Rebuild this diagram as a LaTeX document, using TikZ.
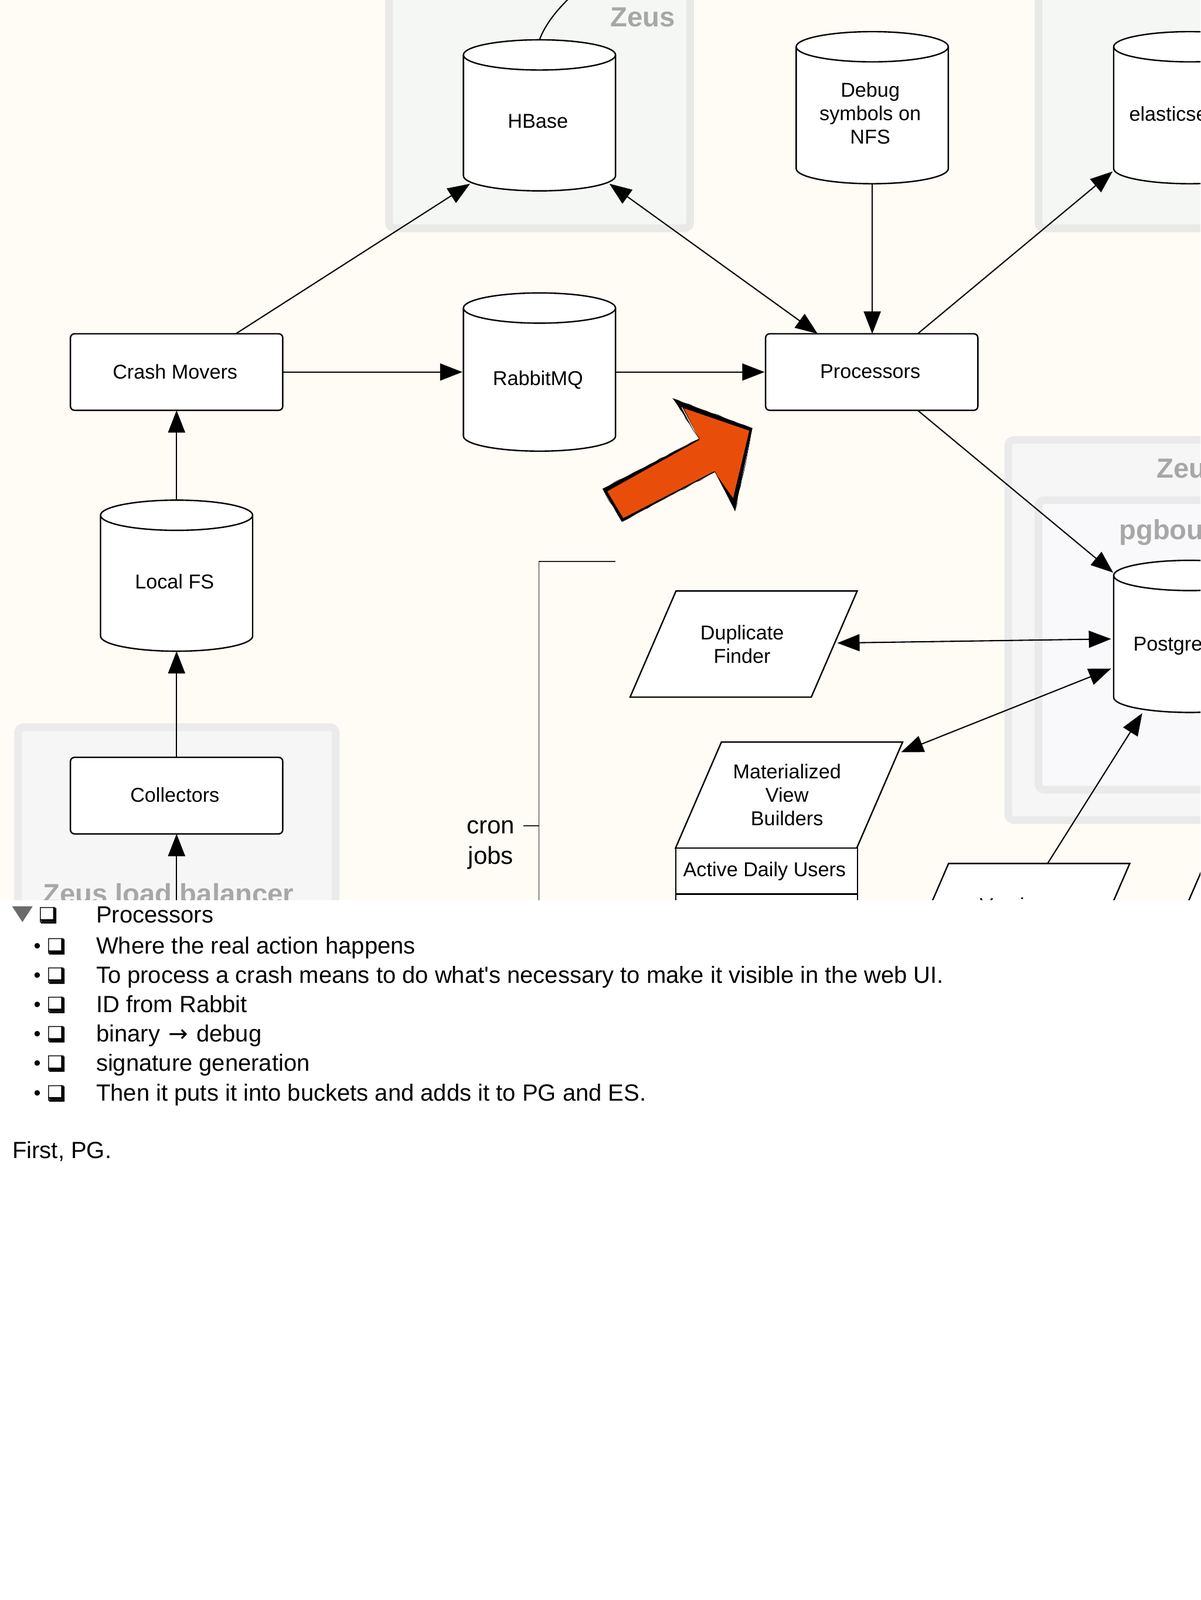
\documentclass[tikz,border=0pt]{standalone}
\usepackage{fontspec}
\setmainfont{Liberation Sans}
\newfontfamily\lib{Liberation Sans}
\newfontfamily\djv{DejaVu Sans}
\usetikzlibrary{arrows.meta,decorations.pathmorphing}
\def\uu{0.87075pt}
\definecolor{bgc}{HTML}{FFFCF5}
\definecolor{zfill}{HTML}{F5F7F4}
\definecolor{zline}{HTML}{E9EAE8}
\definecolor{pfill}{HTML}{F7F6F7}
\definecolor{pline}{HTML}{EAEAEA}
\definecolor{ifill}{HTML}{F9F8FA}
\definecolor{lfill}{HTML}{F7F6F6}
\definecolor{lline}{HTML}{ECEBEB}
\definecolor{lab}{HTML}{A8A7A8}
\definecolor{org}{HTML}{E84E0A}
\tikzset{
  group/.style={line width=6.6pt,rounded corners=5pt},
  glabel/.style={text=lab,anchor=base west,inner sep=0pt,font=\fontsize{23.6}{28}\selectfont\bfseries},
  boxtext/.style={font=\fontsize{17.1}{20}\selectfont,align=center,inner sep=0pt,text=black},
  edgetext/.style={boxtext,anchor=base west},
  box/.style={draw=black,fill=white,line width=1.2pt,outer sep=0pt,inner sep=0pt,boxtext},
  rbox/.style={box,rectangle,rounded corners=3.5pt,minimum width=208*\uu,minimum height=75*\uu},
  parabox/.style={rectangle,draw=none,outer sep=0pt,boxtext,minimum width=222.5*\uu,minimum height=104*\uu},
  paraline/.style={draw=black,fill=white,line width=1.2pt,line join=miter},
  row/.style={box,rectangle,minimum width=178*\uu,minimum height=45*\uu},
  cylbox/.style={rectangle,draw=none,inner sep=0pt,outer sep=0pt,minimum width=149*\uu},
  cylline/.style={draw=black,fill=white,line width=1.2pt},
  conn/.style={draw=black,line width=1.05pt,-{Triangle[length=19pt,width=14.5pt]}},
  both/.style={draw=black,line width=1.05pt,{Triangle[length=19pt,width=14.5pt]}-{Triangle[length=19pt,width=14.5pt]}},
  plain/.style={draw=black,line width=1.05pt},
  thinl/.style={draw=black!85,line width=0.7pt},
  ltext/.style={anchor=base west,inner sep=0pt,font=\fontsize{20}{24}\selectfont\lib},
  lbox/.style={anchor=base west,inner sep=0pt,font=\fontsize{18}{24}\selectfont\djv},
  lbul/.style={anchor=base west,inner sep=0pt,font=\fontsize{17}{24}\selectfont},
}
% name, centre x, top y, bottom y
\newcommand\mycyl[4]{%
  \pgfmathsetmacro\cx{#2}\pgfmathsetmacro\ca{#2-74.5}\pgfmathsetmacro\cb{#2+74.5}%
  \pgfmathsetmacro\ct{#3+14.8}\pgfmathsetmacro\cd{#4-14.8}\pgfmathsetmacro\cm{(#3+#4)/2}\pgfmathsetmacro\ch{#4-#3}%
  \node[cylbox,minimum height=\ch*\uu] (#1) at (\cx,\cm) {};
  \draw[cylline] (\ca,\ct) arc[x radius=74.5*\uu,y radius=14.8*\uu,start angle=180,end angle=0]
     -- (\cb,\cd) arc[x radius=74.5*\uu,y radius=14.8*\uu,start angle=0,end angle=-180] -- cycle;
  \draw[cylline,fill=none] (\ca,\ct) arc[x radius=74.5*\uu,y radius=14.8*\uu,start angle=180,end angle=360];
}
% name, centre x, centre y, text
\newcommand\mypara[4]{%
  \pgfmathsetmacro\pa{#2-111.25}\pgfmathsetmacro\pb{#2-66.25}\pgfmathsetmacro\pc{#2+66.25}\pgfmathsetmacro\pd{#2+111.25}%
  \pgfmathsetmacro\pt{#3-52}\pgfmathsetmacro\pu{#3+52}%
  \draw[paraline] (\pb,\pt) -- (\pd,\pt) -- (\pc,\pu) -- (\pa,\pu) -- cycle;
  \node[parabox] (#1) at (#2,#3) {#4};
}
% left ink edge, baseline: heavy lower-right shadow of the check box
\newcommand\ckshadow[2]{%
  \fill[black] (#1+13,#2-15.4) -- (#1+15.5,#2-13.4) -- (#1+15.5,#2-0.9) -- (#1+2,#2-0.9) -- (#1,#2-3.4) -- (#1+13,#2-3.4) -- cycle;
}
% name, baseline y, text
\newcommand\litem[3]{%
  \node[lbul] (#1b) at (32.8,#2-1) {•};
  \node[lbox] (#1c) at (46,#2) {❏};
  \ckshadow{47}{#2}
  \node[ltext] (#1t) at (94,#2) {#3};
}
\newcommand\rt[2]{\raisebox{1pt}{#2\kern#1pt}}
\begin{document}
\begin{tikzpicture}[x=\uu,y=-\uu]
\useasboundingbox (0,0) rectangle (1176,1567.6);
\fill[white] (0,0) rectangle (1176,1567.6);
\begin{scope}
\clip (0,0) rectangle (1176,881.5);
\fill[bgc] (0,0) rectangle (1176,881.5);
% groups
\draw[group,draw=zline,fill=zfill] (381,-30) rectangle (676,223.7);
\draw[group,draw=zline,fill=zfill] (1017.3,-30) rectangle (1300,223.7);
\draw[group,draw=pline,fill=pfill] (987.7,431) rectangle (1300,803.5);
\draw[group,draw=pline,fill=ifill] (1017.3,490) rectangle (1280,773.7);
\draw[group,draw=lline,fill=lfill] (17.6,712.5) rectangle (328.8,1000);
\node[glabel] (gz1) at (598,26) {Zeus};
\node[glabel] (gz2) at (1133,468) {Zeu};
\node[glabel] (gpg) at (1096.2,528.3) {pgbou};
\node[glabel] (glb) at (42,885.3) {Zeus load balancer};
% nodes
\node[rbox] (crash) at (173,364.5) {\rt{2.6}{Crash Movers}};
\node[rbox] (proc) at (854,364.5) {\rt{2.6}{Processors}};
\node[rbox] (coll) at (173,779.5) {\rt{3}{Collectors}};
\mycyl{hb}{528.5}{39}{187}
\node[boxtext] (hbt) at (527,119) {HBase};
\mycyl{rabbit}{528.5}{287}{442}
\node[boxtext] (rabbitt) at (527,372) {RabbitMQ};
\mycyl{debug}{854.5}{31}{180}
\node[boxtext] (debugt) at (852.5,111) {Debug\\symbols on\\NFS};
\mycyl{es}{1165.5}{31}{180}
\node[edgetext] (est) at (1106,118.4) {elasticse};
\mycyl{lfs}{173}{490}{638}
\node[boxtext] (lfst) at (171,570) {Local FS};
\mycyl{pg}{1165.5}{549}{698}
\node[edgetext] (pgt) at (1110,637.6) {Postgre};
\mypara{dup}{728.5}{631}{Duplicate\kern2.6pt\\Finder\kern2.6pt}
\mypara{mat}{773}{779}{Materialized\kern3.5pt\\View\kern3.5pt\\Builders\kern3.5pt}
\node[row] (adu) at (751,853.5) {Active Daily Users\kern3.5pt};
\node[row] (row2) at (751,898.5) {};
\mypara{ver}{995.5}{898}{Version\kern5pt\\~}
\mypara{other}{1246.5}{898}{}
% cron bracket
\node[font=\fontsize{21}{26}\selectfont,align=center,inner sep=0pt] (cron) at (480.8,828) {cron\\jobs};
\coordinate (brtop) at (603,550);
\coordinate (brmid) at (528,550);
\coordinate (brbot) at (528,900);
\coordinate (brtick) at (513,809);
\draw[thinl] (brtop) -- (brmid) -- (brbot);
\draw[thinl] (brtick) -- (brtick -| brmid);
% connectors
\coordinate (lbin) at (173,900);
\coordinate (hbup) at (560,-4);
\draw[plain] (hb.north) .. controls (534,24) and (546,9) .. (hbup);
\draw[conn] (lbin) -- (coll.south);
\draw[conn] (coll.north) -- (lfs.south);
\draw[conn] (lfs.north) -- (crash.south);
\draw[conn] ([shift={(-46,0)}]crash.north east) -- ([shift={(6.5,-7)}]hb.south west);
\draw[conn] (crash.east) -- ([xshift=-1*\uu]rabbit.west);
\draw[conn] (rabbit.east) -- ([xshift=-1*\uu]proc.west);
\draw[both] ([shift={(-6,-7)}]hb.south east) -- ([shift={(51,0)}]proc.north west);
\draw[conn] (debug.south) -- (debug.south |- proc.north);
\draw[conn] ([shift={(-59,0)}]proc.north east) -- ([shift={(-1,-12)}]es.south west);
\draw[conn] ([shift={(-59,0)}]proc.south east) -- ([shift={(-0.5,12)}]pg.north west);
\draw[both] ([shift={(-19.5,-1)}]dup.east) -- ([shift={(-2.5,2.5)}]pg.west);
\draw[both] ([shift={(-1.5,10)}]mat.north east) -- ([shift={(-2.5,-43)}]pg.south west);
\draw[conn] ([shift={(142,0)}]ver.north west) -- ([shift={(28,0.7)}]pg.south west);
% red arrow
\fill[black] (659.4,390.5) -- (736.9,419.6) -- (720,500.5) -- (700.5,462.2) -- (609.2,511.1) -- (590.5,478.9) -- (685.2,429.7) -- cycle;
\fill[org] (669.9,400) -- (734,422) -- (718.2,488.1) -- (699.6,461.7) -- (610.6,507.6) -- (594.9,481.4) -- (685.2,431) -- cycle;
\draw[white,line width=0.6pt] (668,399) -- (683.5,428.5);
\draw[black,line width=0.35pt,decorate,decoration={random steps,segment length=5pt,amplitude=0.6pt}] (659.4,390.5) -- (736.9,419.6) -- (720,500.5) -- (700.5,462.2) -- (609.2,511.1) -- (590.5,478.9) -- (685.2,429.7) -- cycle;
\end{scope}
% list
\fill[black!58] (11.9,888) -- (32,888) -- (22,903.4) -- cycle;
\node[lbox] (t0c) at (38,903.9) {❏};
\ckshadow{39}{903.9}
\node[ltext] (t0t) at (94,903.9) {Processors};
\litem{a}{934.6}{Where the real action happens}
\litem{b}{963}{To process a crash means to do what's necessary to make it visible in the web UI.}
\litem{c}{991.7}{ID from Rabbit}
\litem{d}{1020.6}{binary \makebox[20pt][c]{\djv →} debug}
\litem{e}{1049.4}{signature generation}
\litem{f}{1078.4}{Then it puts it into buckets and adds it to PG and ES.}
\node[ltext] (first) at (12,1134.7) {First, PG.};
\end{tikzpicture}
\end{document}
